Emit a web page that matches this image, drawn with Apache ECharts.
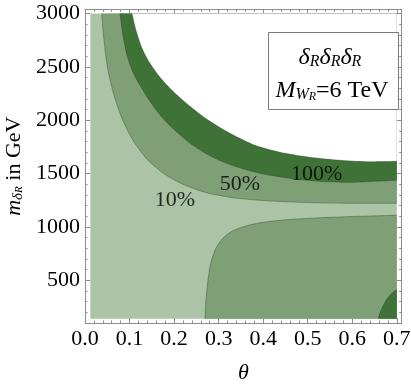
<!DOCTYPE html>
<html>
<head>
<meta charset="utf-8">
<script src="https://cdn.jsdelivr.net/npm/echarts@6/dist/echarts.min.js"></script>
<style>
  html, body { margin: 0; padding: 0; background: #fff; }
  #chart { width: 411px; height: 387px; }
</style>
</head>
<body>
<div id="chart"></div>
<script>
  // plotted region (theta, m in GeV)
  var thetaRange = [0.012, 0.7]
  var massRange = [140, 3000]

  // contour boundaries
  var c10UpperTheta = [0.0375, 0.0426, 0.0516, 0.0651, 0.083, 0.1077, 0.1414, 0.1795, 0.2199, 0.2692, 0.3253, 0.3926, 0.4824, 0.5946, 0.7]
  var c10UpperMass = [3000, 2750, 2468, 2234, 2018, 1812, 1625, 1493, 1400, 1325, 1278, 1250, 1231, 1222, 1222]

  var c50Theta = [0.0785, 0.0853, 0.0942, 0.1077, 0.1234, 0.1458, 0.1728, 0.2042, 0.2423, 0.2872, 0.3366, 0.3926, 0.46, 0.5273, 0.5946, 0.6507, 0.7]
  var c50Mass = [3000, 2797, 2609, 2450, 2328, 2178, 2028, 1897, 1765, 1653, 1568, 1503, 1456, 1428, 1418, 1428, 1437]

  var c100Theta = [0.1055, 0.1144, 0.1279, 0.1458, 0.1683, 0.1974, 0.2356, 0.2737, 0.3253, 0.3814, 0.4375, 0.5048, 0.5721, 0.6394, 0.7]
  var c100Mass = [3000, 2843, 2675, 2534, 2403, 2272, 2131, 2009, 1878, 1765, 1700, 1653, 1625, 1611, 1615]

  var c10LowerTheta = [0.2692, 0.2715, 0.276, 0.2827, 0.2939, 0.3096, 0.3298, 0.359, 0.3926, 0.4487, 0.5273, 0.617, 0.7]
  var c10LowerMass = [140, 313, 500, 669, 800, 894, 959, 1006, 1039, 1067, 1086, 1100, 1109]

  var c50CornerTheta = [0.6585, 0.6619, 0.6686, 0.6776, 0.6888, 0.7]
  var c50CornerMass = [140, 191, 256, 322, 378, 416]

  // contour labels
  var labelTheta = [0.202, 0.348, 0.52]
  var labelMass = [1255, 1405, 1495]
  var labelText = ['10%', '50%', '100%']

  var colLight = '#abc4a6'
  var colMid = '#7fa077'
  var colDark = '#3e7236'
  var edge = 'rgba(30,50,30,0.45)'
  var serif = '"Liberation Serif", "Times New Roman", serif'

  function zip(xs, ys) {
    var out = []
    for (var i = 0; i < xs.length; i++) {
      out.push([xs[i], ys[i]])
    }
    return out
  }

  function region(data, color, origin, withEdge) {
    return {
      type: 'line',
      data: data,
      symbol: 'none',
      smooth: 0.25,
      silent: true,
      animation: false,
      lineStyle: { color: edge, width: withEdge ? 0.8 : 0 },
      areaStyle: { color: color, opacity: 1, origin: origin }
    }
  }

  var frame = '#8c8c8c'
  function axisBits(showLabel) {
    return {
      axisLine: { show: true, onZero: false, lineStyle: { color: frame, width: 1 } },
      axisTick: { show: true, inside: true, length: 5, lineStyle: { color: frame } },
      minorTick: { show: true, splitNumber: 5, length: 2.5, lineStyle: { color: frame } },
      splitLine: { show: false },
      axisLabel: { show: showLabel }
    }
  }

  function xLabel(v) {
    if (Math.abs(v * 10 - Math.round(v * 10)) > 1e-6) return ''
    return v.toFixed(1)
  }
  function yLabel(v) {
    if (v % 500 !== 0) return ''
    return String(v)
  }

  var chart = echarts.init(document.getElementById('chart'), null, { renderer: 'canvas' })

  var xBottom = Object.assign({
    type: 'value', position: 'bottom', min: 0, max: 0.711, interval: 0.1,
    name: 'θ', nameLocation: 'middle', nameGap: 39,
    nameTextStyle: { fontFamily: serif, fontStyle: 'italic', fontSize: 22, color: '#000' }
  }, axisBits(true))
  xBottom.axisLabel = { show: true, formatter: xLabel, margin: 5, fontFamily: serif, fontSize: 22, color: '#000', showMaxLabel: false }

  var xTop = Object.assign({ type: 'value', position: 'top', min: 0, max: 0.711, interval: 0.1 }, axisBits(false))

  var yLeft = Object.assign({
    type: 'value', position: 'left', min: 100, max: 3040, splitNumber: 6, minInterval: 500, maxInterval: 500,
    name: '{i|m}{s|δ}{ss|R}{n| in GeV}', nameLocation: 'middle', nameGap: 58,
    nameTextStyle: {
      color: '#000',
      rich: {
        i: { fontFamily: serif, fontStyle: 'italic', fontSize: 22, lineHeight: 26, verticalAlign: 'bottom' },
        s: { fontFamily: serif, fontStyle: 'italic', fontSize: 15, lineHeight: 15, verticalAlign: 'bottom' },
        ss: { fontFamily: serif, fontStyle: 'italic', fontSize: 11, lineHeight: 7, verticalAlign: 'bottom' },
        n: { fontFamily: serif, fontSize: 22, lineHeight: 26, verticalAlign: 'bottom' }
      }
    }
  }, axisBits(true))
  yLeft.axisLabel = { show: true, formatter: yLabel, margin: 5, fontFamily: serif, fontSize: 22, color: '#000', showMinLabel: false, showMaxLabel: false }

  var yRight = Object.assign({
    type: 'value', position: 'right', min: 100, max: 3040, splitNumber: 6, minInterval: 500, maxInterval: 500
  }, axisBits(false))

  var series = [
    region(zip(thetaRange, [massRange[1], massRange[1]]), colLight, massRange[0], false),
    region(zip(c10UpperTheta, c10UpperMass), colMid, massRange[1], true),
    region(zip(c50Theta, c50Mass), colDark, massRange[1], true),
    region(zip(c100Theta, c100Mass), '#ffffff', massRange[1], true),
    region(zip(c10LowerTheta, c10LowerMass), colMid, massRange[0], true),
    region(zip(c50CornerTheta, c50CornerMass), colDark, massRange[0], true),
    {
      type: 'scatter',
      data: zip(labelTheta, labelMass).map(function (p, i) { return { value: p, name: labelText[i] } }),
      symbolSize: 0,
      silent: true,
      animation: false,
      z: 10,
      label: {
        show: true,
        position: 'inside',
        formatter: function (p) { return p.name },
        fontFamily: serif,
        fontSize: 22,
        color: '#000'
      }
    }
  ]

  var boxRich = {
    i: { fontFamily: serif, fontStyle: 'italic', fontSize: 24, lineHeight: 28, verticalAlign: 'bottom', fill: '#000' },
    s: { fontFamily: serif, fontStyle: 'italic', fontSize: 16, lineHeight: 16, verticalAlign: 'bottom', fill: '#000' },
    ss: { fontFamily: serif, fontStyle: 'italic', fontSize: 12, lineHeight: 8, verticalAlign: 'bottom', fill: '#000' },
    n: { fontFamily: serif, fontSize: 24, lineHeight: 28, verticalAlign: 'bottom', fill: '#000' }
  }

  chart.setOption({
    backgroundColor: '#fff',
    animation: false,
    grid: { left: 85, right: 9.3, top: 9.3, bottom: 64, containLabel: false, outerBoundsMode: 'none' },
    xAxis: [xBottom, xTop],
    yAxis: [yLeft, yRight],
    series: series,
    graphic: [
      {
        type: 'rect',
        left: 268, top: 32, z: 100,
        shape: { width: 130, height: 77 },
        style: { fill: '#fff', stroke: '#7a7a7a', lineWidth: 1 }
      },
      {
        type: 'text',
        x: 330, y: 56, z: 101,
        style: { text: '{i|δ}{s|R}{i|δ}{s|R}{i|δ}{s|R}', align: 'center', verticalAlign: 'middle', rich: boxRich }
      },
      {
        type: 'text',
        x: 332, y: 89, z: 101,
        style: { text: '{i|M}{s|W}{ss|R}{n|=6 TeV}', align: 'center', verticalAlign: 'middle', rich: boxRich }
      }
    ]
  })
</script>
</body>
</html>
